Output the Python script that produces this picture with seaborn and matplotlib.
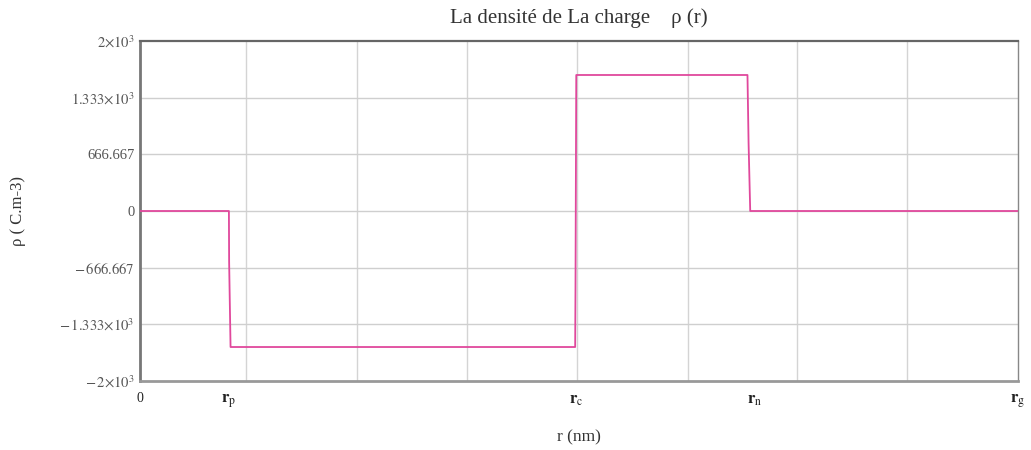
import matplotlib
matplotlib.use("Agg")
import matplotlib.pyplot as plt
import seaborn as sns
import pandas as pd
import numpy as np

# Data (r in arbitrary nm units, rho in C.m-3)
r_values = [0.0, 0.81, 0.812, 0.825, 3.965, 3.968, 3.975, 5.535, 5.545, 5.56, 8.0]
rho_values = [0.0, 0.0, -600.0, -1600.0, -1600.0, -900.0, 1600.0, 1600.0, 800.0, 0.0, 0.0]

x_tick_pos = [0.0, 0.81, 3.97, 5.6, 8.0]
x_tick_labels = ["0", r"$\mathbf{r}_{\mathrm{p}}$", r"$\mathbf{r}_{\mathrm{c}}$",
                 r"$\mathbf{r}_{\mathrm{n}}$", r"$\mathbf{r}_{\mathrm{g}}$"]
x_grid_pos = [0.97, 1.98, 2.98, 3.98, 4.99, 5.99, 6.99]
y_tick_pos = [-2000, -1333.333, -666.667, 0, 666.667, 1333.333, 2000]
y_tick_labels = [r"$-\,2{\times}10^3$", r"$-\,1.333{\times}10^3$", r"$-\,666.667$", "0",
                 "666.667", r"$1.333{\times}10^3$", r"$2{\times}10^3$"]

sns.set_theme(style="white")
plt.rcParams["font.family"] = ["Liberation Serif", "DejaVu Serif"]
plt.rcParams["mathtext.fontset"] = "stix"

df = pd.DataFrame({"r": r_values, "rho": rho_values})

fig = plt.figure(figsize=(10.31, 4.5), dpi=100)
ax = fig.add_axes([0.1358, 0.1533, 0.8516, 0.7556])

ax.set_xlim(0, 8)
ax.set_ylim(-2000, 2000)

for g in x_grid_pos:
    ax.axvline(g, color="#d4d4d4", lw=1.0, zorder=0)
for yv in y_tick_pos[1:-1]:
    ax.axhline(yv, color="#cfcfcf", lw=1.0, zorder=0)

sns.lineplot(data=df, x="r", y="rho", ax=ax, color="#e0489c", lw=1.3,
             estimator=None, sort=False, zorder=3)

ax.set_xticks(x_tick_pos)
ax.set_xticklabels(x_tick_labels, fontsize=12, color="#222222")
ax.get_xticklabels()[0].set_fontsize(10)
ax.set_yticks(y_tick_pos)
ax.set_yticklabels(y_tick_labels, fontsize=10.5, color="#555555")
ax.tick_params(axis="both", length=0, pad=4)
ax.tick_params(axis="x", pad=8)

for s in ax.spines.values():
    s.set_color("#888888")
    s.set_linewidth(1.0)
ax.spines["left"].set_linewidth(2.0)
ax.spines["left"].set_color("#777777")
ax.spines["bottom"].set_linewidth(2.0)
ax.spines["bottom"].set_color("#999999")
ax.spines["top"].set_linewidth(1.6)
ax.spines["top"].set_color("#666666")

ax.set_xlabel("r (nm)", fontsize=12.5, color="#333333", labelpad=14)
ax.set_ylabel("ρ ( C.m-3)", fontsize=12, color="#333333", labelpad=24)
ax.set_title("La densité de La charge    ρ (r)", fontsize=15, color="#333333", pad=13)

fig.savefig("out.png", dpi=100)
